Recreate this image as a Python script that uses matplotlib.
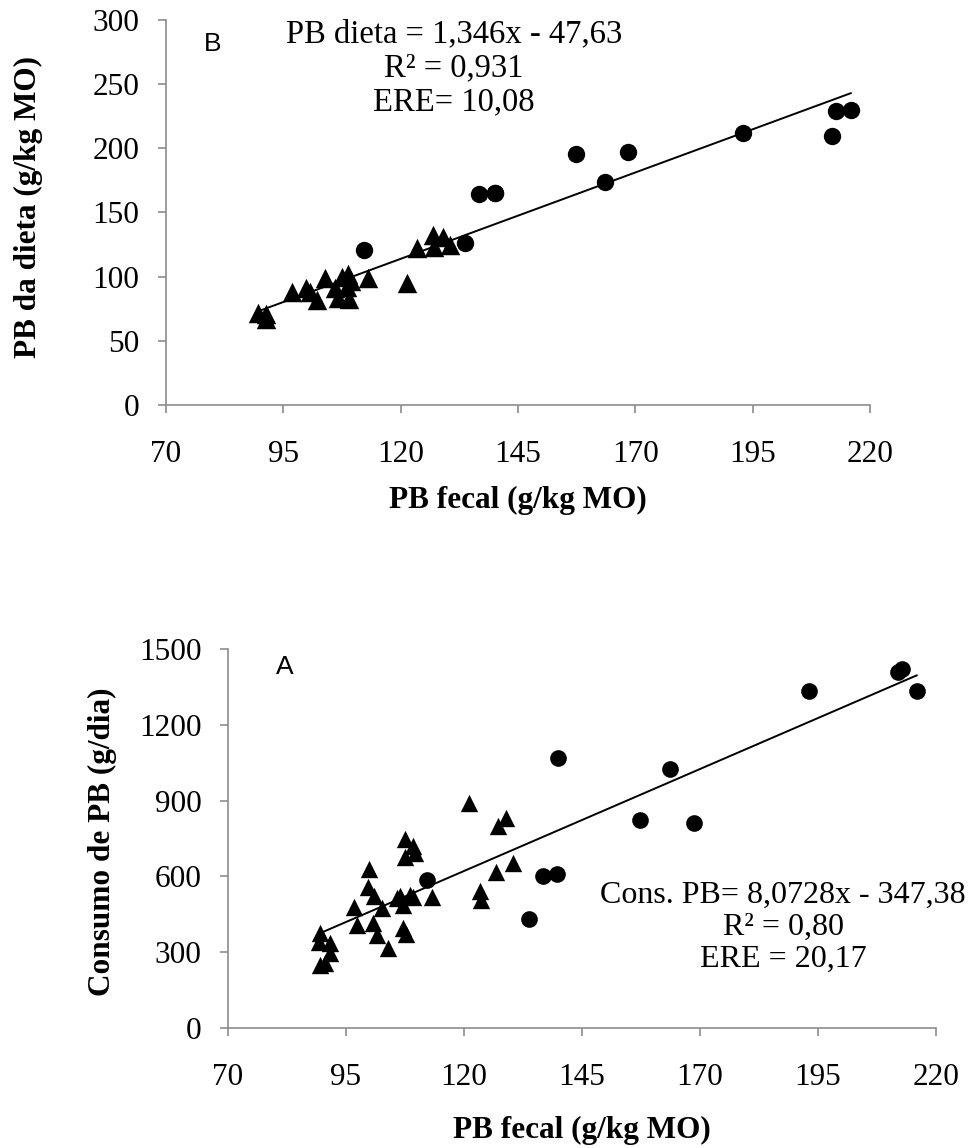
import matplotlib.pyplot as plt
import numpy as np

# PB fecal x PB da dieta (painel B)
circ_x_top = [112.2, 133.8, 136.7, 140.0, 140.2, 157.3, 163.6, 168.5, 192.9, 211.8, 212.7, 215.9]
circ_y_top = [120.7, 125.9, 164.8, 165.3, 165.5, 195.5, 173.4, 197.0, 211.6, 209.7, 229.2, 229.7]
tri_x_top = [89.5, 91.4, 91.4, 96.8, 99.9, 100.7, 102.1, 103.9, 106.0, 106.7, 107.4, 108.8,
             108.5, 109.0, 109.5, 113.1, 121.3, 123.4, 126.8, 127.1, 129.0, 130.5]
tri_y_top = [71.6, 71.0, 67.0, 88.3, 91.5, 88.3, 82.0, 99.3, 90.8, 83.1, 99.5, 102.0,
             92.1, 82.5, 96.7, 98.7, 94.8, 122.5, 132.4, 123.3, 131.1, 124.6]

# PB fecal x Consumo de PB (painel A)
circ_x_bot = [112.1, 133.8, 136.7, 139.8, 139.9, 157.3, 163.6, 168.7, 193.0, 212.0, 212.7, 215.9]
circ_y_bot = [586, 433, 603, 608, 1067, 822, 1025, 812, 1335, 1410, 1419, 1334]
tri_x_bot = [89.5, 89.3, 91.6, 91.6, 89.5, 90.5, 96.7, 97.4, 99.9, 99.6, 101.0, 100.8,
             101.6, 102.6, 103.8, 105.7, 106.4, 107.0, 107.0, 107.7, 107.5, 109.1,
             107.6, 109.6, 108.6, 109.3, 113.3, 121.1, 123.4, 123.5, 126.8, 127.1,
             129.0, 130.4]
tri_y_bot = [375, 342, 335, 296, 249, 256, 480, 408, 628, 557, 522, 414,
             368, 474, 315, 513, 522, 487, 395, 372, 747, 720,
             678, 691, 526, 520, 517, 889, 543, 507, 616, 799,
             830, 654]

# regression coefficients (from the equations on the chart)
coef_top = (1.346, -47.63)
coef_bot = (8.0728, -347.38)

eq_top = 'PB dieta = 1,346x - 47,63\nR² = 0,931\nERE= 10,08'
eq_bot = 'Cons. PB= 8,0728x - 347,38\nR² = 0,80\nERE = 20,17'

xticks = [70, 95, 120, 145, 170, 195, 220]

W, H = 970, 1148
serif = ['Liberation Serif', 'DejaVu Serif']
plt.rcParams['font.family'] = serif

fig = plt.figure(figsize=(W / 100, H / 100), dpi=100)


def style_axes(ax, yticks):
    ax.set_xlim(70, 220)
    ax.set_ylim(yticks[0], yticks[-1])
    ax.set_xticks(xticks)
    ax.set_yticks(yticks)
    for s in ['top', 'right']:
        ax.spines[s].set_visible(False)
    for s in ['left', 'bottom']:
        ax.spines[s].set_color('#8c8c8c')
        ax.spines[s].set_linewidth(1.2)
    ax.tick_params(axis='both', direction='out', length=6, width=1.2,
                   color='#8c8c8c', labelsize=22.5, labelcolor='black')
    ax.tick_params(axis='x', pad=19)
    ax.tick_params(axis='y', pad=13)


def draw_panel(ax, cx, cy, tx, ty, coef, ms_tri, ms_circ):
    ax.scatter(tx, ty, marker='^', s=ms_tri ** 2, color='black', linewidths=0,
               clip_on=False, zorder=3)
    ax.scatter(cx, cy, marker='o', s=ms_circ ** 2, color='black', linewidths=0,
               clip_on=False, zorder=3)
    allx = np.array(list(cx) + list(tx))
    xs = np.array([allx.min(), allx.max()])
    ax.plot(xs, coef[0] * xs + coef[1], color='black', linewidth=1.4, zorder=4)


# top panel (B)
ax1 = fig.add_axes([166 / W, 1 - 405 / H, 704 / W, 385 / H])
style_axes(ax1, [0, 50, 100, 150, 200, 250, 300])
draw_panel(ax1, circ_x_top, circ_y_top, tri_x_top, tri_y_top, coef_top, 14.0, 12.5)
ax1.text(0.409, 0.875, eq_top, transform=ax1.transAxes, ha='center', va='center',
         fontsize=23.5, linespacing=1.15)

# bottom panel (A)
ax2 = fig.add_axes([228 / W, 1 - 1028 / H, 708 / W, 379 / H])
style_axes(ax2, [0, 300, 600, 900, 1200, 1500])
draw_panel(ax2, circ_x_bot, circ_y_bot, tri_x_bot, tri_y_bot, coef_bot, 12.5, 12.0)
ax2.text(0.784, 0.266, eq_bot, transform=ax2.transAxes, ha='center', va='center',
         fontsize=23, linespacing=1.15)

# panel letters
fig.text(213 / W, 1 - 44 / H, 'B', fontsize=19, family='Liberation Sans',
         ha='center', va='center')
fig.text(285 / W, 1 - 667 / H, 'A', fontsize=19, family='Liberation Sans',
         ha='center', va='center')

# axis titles
fig.text(518 / W, 1 - 500 / H, 'PB fecal (g/kg MO)', fontsize=22.5, fontweight='bold',
         ha='center', va='center')
fig.text(28 / W, 1 - 207 / H, 'PB da dieta (g/kg MO)', fontsize=22.5, fontweight='bold',
         ha='center', va='center', rotation=90)
fig.text(582 / W, 1 - 1130 / H, 'PB fecal (g/kg MO)', fontsize=22.5, fontweight='bold',
         ha='center', va='center')
fig.text(102 / W, 1 - 842 / H, 'Consumo de PB (g/dia)', fontsize=22.5, fontweight='bold',
         ha='center', va='center', rotation=90)

fig.savefig('out.png', dpi=100)
